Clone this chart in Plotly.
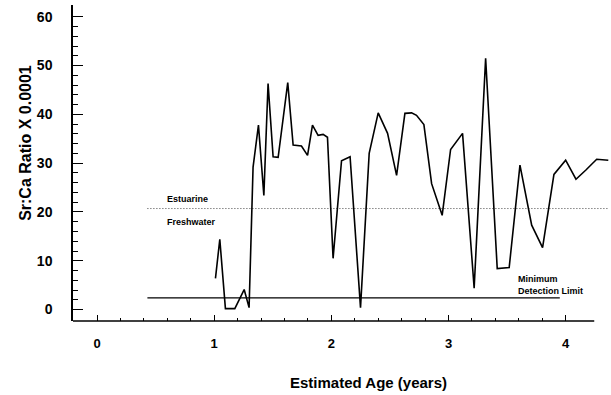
import plotly.graph_objects as go

# Data
age_years = [1.011, 1.048, 1.096, 1.176, 1.256, 1.298, 1.332, 1.378, 1.424, 1.460,
             1.503, 1.546, 1.628, 1.674, 1.745, 1.797, 1.839, 1.887, 1.930, 1.967,
             2.015, 2.087, 2.160, 2.249, 2.323, 2.400, 2.480, 2.557, 2.628, 2.685,
             2.727, 2.790, 2.856, 2.946, 3.018, 3.120, 3.219, 3.317, 3.416, 3.518,
             3.610, 3.710, 3.803, 3.900, 4.000, 4.088, 4.173, 4.265, 4.364]
sr_ca = [6.4, 14.4, 0.2, 0.2, 4.1, 0.4, 29.2, 37.8, 23.4, 46.3,
         31.3, 31.2, 46.5, 33.7, 33.5, 31.6, 37.8, 35.7, 35.9, 35.3,
         10.5, 30.5, 31.3, 0.4, 32.0, 40.3, 36.1, 27.5, 40.2, 40.3,
         39.8, 37.9, 25.8, 19.3, 32.8, 36.1, 4.4, 51.5, 8.4, 8.6,
         29.6, 17.3, 12.7, 27.7, 30.6, 26.7, 28.6, 30.8, 30.6]

estuarine_threshold = 20.7
estuarine_span = [0.43, 4.37]
detection_limit = 2.4
detection_span = [0.43, 3.95]

x_tick_vals = [0, 1, 2, 3, 4]
y_tick_vals = [0, 10, 20, 30, 40, 50, 60]
x_range = [-0.205, 4.37]
x_axis_end = 4.244
y_range = [-2.34, 62.4]

FONT = "Liberation Sans, Arial, sans-serif"

fig = go.Figure()

fig.add_trace(go.Scatter(
    x=estuarine_span, y=[estuarine_threshold] * 2, mode="lines",
    line=dict(color="#444444", width=1, dash="1px,2px"), hoverinfo="skip", showlegend=False))
fig.add_trace(go.Scatter(
    x=detection_span, y=[detection_limit] * 2, mode="lines",
    line=dict(color="black", width=1.4), hoverinfo="skip", showlegend=False))
fig.add_trace(go.Scatter(
    x=age_years, y=sr_ca, mode="lines",
    line=dict(color="black", width=1.6), showlegend=False))

# x axis line (ends before the data does, as in the reference)
fig.add_shape(type="line", xref="x", yref="paper", x0=x_range[0], x1=x_axis_end,
              y0=0, y1=0, line=dict(color="black", width=1.5))

x_minor = [round(i * 0.2, 1) for i in range(1, 20) if i % 5 != 0]
y_minor = [v for v in range(2, 60, 2) if v % 10 != 0]

fig.update_xaxes(
    range=x_range, showline=False, showgrid=False, zeroline=False, automargin=False,
    tickmode="array", tickvals=x_tick_vals, ticks="inside", ticklen=6,
    tickwidth=1.2, tickcolor="black", ticklabelstandoff=13,
    tickfont=dict(family=FONT, size=13, color="black", weight=700),
    minor=dict(tickmode="array", tickvals=x_minor, ticks="inside", ticklen=3,
               tickwidth=1, tickcolor="black"),
)
fig.update_yaxes(
    range=y_range, showline=True, linecolor="black", linewidth=1.5,
    showgrid=False, zeroline=False, automargin=False,
    tickmode="array", tickvals=y_tick_vals, ticks="inside", ticklen=10,
    tickwidth=1.2, tickcolor="black", ticklabelstandoff=16,
    tickfont=dict(family=FONT, size=14, color="black", weight=700),
    minor=dict(tickmode="array", tickvals=y_minor, ticks="inside", ticklen=5,
               tickwidth=1, tickcolor="black"),
)

lab = dict(family=FONT, size=9, color="black", weight=700)
fig.add_annotation(x=0.578, y=22.6, text="Estuarine", showarrow=False,
                   xanchor="left", yanchor="middle", font=lab)
fig.add_annotation(x=0.578, y=18.0, text="Freshwater", showarrow=False,
                   xanchor="left", yanchor="middle", font=lab)
fig.add_annotation(x=3.576, y=6.36, text="Minimum", showarrow=False,
                   xanchor="left", yanchor="middle", font=lab)
fig.add_annotation(x=3.576, y=3.75, text="Detection Limit", showarrow=False,
                   xanchor="left", yanchor="middle", font=lab)

fig.add_annotation(xref="paper", yref="paper", x=-0.09, y=0.563,
                   text="Sr:Ca Ratio X 0.0001", textangle=-90, showarrow=False,
                   xanchor="center", yanchor="middle",
                   font=dict(family=FONT, size=16, color="black", weight=700))
fig.add_annotation(xref="paper", yref="paper", x=0.551, y=-0.194,
                   text="Estimated Age (years)", showarrow=False,
                   xanchor="center", yanchor="middle",
                   font=dict(family=FONT, size=15, color="black", weight=700))

fig.update_layout(
    width=611, height=395,
    margin=dict(l=73, r=2, t=5, b=74, autoexpand=False),
    plot_bgcolor="white", paper_bgcolor="white",
)

fig.write_html("out.html", config={"displayModeBar": False},
               post_script="document.body.style.margin='0px';document.body.style.overflow='hidden';")
